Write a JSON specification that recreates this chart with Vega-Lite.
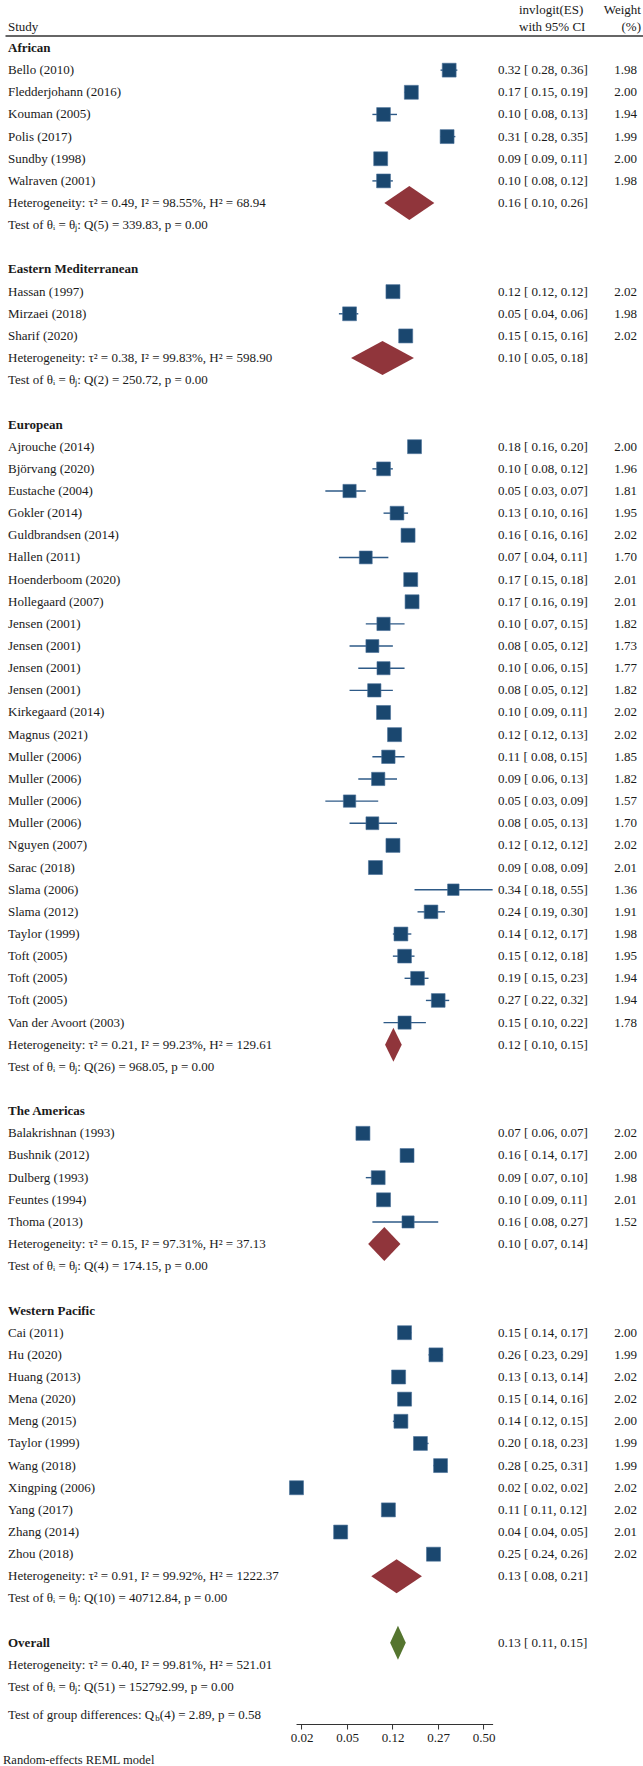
{
  "$schema": "https://vega.github.io/schema/vega-lite/v6.json",
  "width": 196.56,
  "height": 1724,
  "autosize": {"type": "none"},
  "padding": {"left": 296.04, "right": 150.4, "top": 0, "bottom": 42},
  "background": "white",
  "config": {
    "view": {"stroke": null},
    "text": {"font": "Liberation Serif", "fontSize": 13, "color": "#1a1a1a", "baseline": "middle"}
  },
  "datasets": {
    "studies": [
      {"row": 1, "study": "Bello (2010)", "ci": "0.32 [ 0.28, 0.36]", "wt": 1.98, "l": -0.754, "lo": -0.944, "hi": -0.575},
      {"row": 2, "study": "Fledderjohann (2016)", "ci": "0.17 [ 0.15, 0.19]", "wt": 2.00, "l": -1.586, "lo": -1.735, "hi": -1.450},
      {"row": 3, "study": "Kouman (2005)", "ci": "0.10 [ 0.08, 0.13]", "wt": 1.94, "l": -2.197, "lo": -2.442, "hi": -1.901},
      {"row": 4, "study": "Polis (2017)", "ci": "0.31 [ 0.28, 0.35]", "wt": 1.99, "l": -0.800, "lo": -0.944, "hi": -0.619},
      {"row": 5, "study": "Sundby (1998)", "ci": "0.09 [ 0.09, 0.11]", "wt": 2.00, "l": -2.26, "lo": -2.33, "hi": -2.12},
      {"row": 6, "study": "Walraven (2001)", "ci": "0.10 [ 0.08, 0.12]", "wt": 1.98, "l": -2.197, "lo": -2.442, "hi": -1.992},
      {"row": 11, "study": "Hassan (1997)", "ci": "0.12 [ 0.12, 0.12]", "wt": 2.02, "l": -1.99, "lo": -2.01, "hi": -1.97},
      {"row": 12, "study": "Mirzaei (2018)", "ci": "0.05 [ 0.04, 0.06]", "wt": 1.98, "l": -2.944, "lo": -3.178, "hi": -2.752},
      {"row": 13, "study": "Sharif (2020)", "ci": "0.15 [ 0.15, 0.16]", "wt": 2.02, "l": -1.71, "lo": -1.74, "hi": -1.67},
      {"row": 18, "study": "Ajrouche (2014)", "ci": "0.18 [ 0.16, 0.20]", "wt": 2.00, "l": -1.516, "lo": -1.658, "hi": -1.386},
      {"row": 19, "study": "Björvang (2020)", "ci": "0.10 [ 0.08, 0.12]", "wt": 1.96, "l": -2.197, "lo": -2.442, "hi": -1.992},
      {"row": 20, "study": "Eustache (2004)", "ci": "0.05 [ 0.03, 0.07]", "wt": 1.81, "l": -2.944, "lo": -3.476, "hi": -2.587},
      {"row": 21, "study": "Gokler (2014)", "ci": "0.13 [ 0.10, 0.16]", "wt": 1.95, "l": -1.901, "lo": -2.197, "hi": -1.658},
      {"row": 22, "study": "Guldbrandsen (2014)", "ci": "0.16 [ 0.16, 0.16]", "wt": 2.02, "l": -1.658, "lo": -1.67, "hi": -1.64},
      {"row": 23, "study": "Hallen (2011)", "ci": "0.07 [ 0.04, 0.11]", "wt": 1.70, "l": -2.587, "lo": -3.178, "hi": -2.091},
      {"row": 24, "study": "Hoenderboom (2020)", "ci": "0.17 [ 0.15, 0.18]", "wt": 2.01, "l": -1.60, "lo": -1.735, "hi": -1.516},
      {"row": 25, "study": "Hollegaard (2007)", "ci": "0.17 [ 0.16, 0.19]", "wt": 2.01, "l": -1.57, "lo": -1.658, "hi": -1.450},
      {"row": 26, "study": "Jensen (2001)", "ci": "0.10 [ 0.07, 0.15]", "wt": 1.82, "l": -2.197, "lo": -2.587, "hi": -1.735},
      {"row": 27, "study": "Jensen (2001)", "ci": "0.08 [ 0.05, 0.12]", "wt": 1.73, "l": -2.442, "lo": -2.944, "hi": -1.992},
      {"row": 28, "study": "Jensen (2001)", "ci": "0.10 [ 0.06, 0.15]", "wt": 1.77, "l": -2.197, "lo": -2.752, "hi": -1.735},
      {"row": 29, "study": "Jensen (2001)", "ci": "0.08 [ 0.05, 0.12]", "wt": 1.82, "l": -2.40, "lo": -2.944, "hi": -1.992},
      {"row": 30, "study": "Kirkegaard (2014)", "ci": "0.10 [ 0.09, 0.11]", "wt": 2.02, "l": -2.197, "lo": -2.314, "hi": -2.091},
      {"row": 31, "study": "Magnus (2021)", "ci": "0.12 [ 0.12, 0.13]", "wt": 2.02, "l": -1.955, "lo": -1.99, "hi": -1.92},
      {"row": 32, "study": "Muller (2006)", "ci": "0.11 [ 0.08, 0.15]", "wt": 1.85, "l": -2.091, "lo": -2.442, "hi": -1.735},
      {"row": 33, "study": "Muller (2006)", "ci": "0.09 [ 0.06, 0.13]", "wt": 1.82, "l": -2.314, "lo": -2.752, "hi": -1.901},
      {"row": 34, "study": "Muller (2006)", "ci": "0.05 [ 0.03, 0.09]", "wt": 1.57, "l": -2.944, "lo": -3.476, "hi": -2.314},
      {"row": 35, "study": "Muller (2006)", "ci": "0.08 [ 0.05, 0.13]", "wt": 1.70, "l": -2.442, "lo": -2.944, "hi": -1.901},
      {"row": 36, "study": "Nguyen (2007)", "ci": "0.12 [ 0.12, 0.12]", "wt": 2.02, "l": -1.99, "lo": -2.00, "hi": -1.98},
      {"row": 37, "study": "Sarac (2018)", "ci": "0.09 [ 0.08, 0.09]", "wt": 2.01, "l": -2.375, "lo": -2.44, "hi": -2.31},
      {"row": 38, "study": "Slama (2006)", "ci": "0.34 [ 0.18, 0.55]", "wt": 1.36, "l": -0.663, "lo": -1.516, "hi": 0.201},
      {"row": 39, "study": "Slama (2012)", "ci": "0.24 [ 0.19, 0.30]", "wt": 1.91, "l": -1.153, "lo": -1.450, "hi": -0.847},
      {"row": 40, "study": "Taylor (1999)", "ci": "0.14 [ 0.12, 0.17]", "wt": 1.98, "l": -1.815, "lo": -1.992, "hi": -1.586},
      {"row": 41, "study": "Toft (2005)", "ci": "0.15 [ 0.12, 0.18]", "wt": 1.95, "l": -1.735, "lo": -1.992, "hi": -1.516},
      {"row": 42, "study": "Toft (2005)", "ci": "0.19 [ 0.15, 0.23]", "wt": 1.94, "l": -1.450, "lo": -1.735, "hi": -1.208},
      {"row": 43, "study": "Toft (2005)", "ci": "0.27 [ 0.22, 0.32]", "wt": 1.94, "l": -0.995, "lo": -1.266, "hi": -0.754},
      {"row": 44, "study": "Van der Avoort (2003)", "ci": "0.15 [ 0.10, 0.22]", "wt": 1.78, "l": -1.735, "lo": -2.197, "hi": -1.266},
      {"row": 49, "study": "Balakrishnan (1993)", "ci": "0.07 [ 0.06, 0.07]", "wt": 2.02, "l": -2.65, "lo": -2.70, "hi": -2.60},
      {"row": 50, "study": "Bushnik (2012)", "ci": "0.16 [ 0.14, 0.17]", "wt": 2.00, "l": -1.68, "lo": -1.815, "hi": -1.586},
      {"row": 51, "study": "Dulberg (1993)", "ci": "0.09 [ 0.07, 0.10]", "wt": 1.98, "l": -2.314, "lo": -2.587, "hi": -2.197},
      {"row": 52, "study": "Feuntes (1994)", "ci": "0.10 [ 0.09, 0.11]", "wt": 2.01, "l": -2.197, "lo": -2.314, "hi": -2.091},
      {"row": 53, "study": "Thoma (2013)", "ci": "0.16 [ 0.08, 0.27]", "wt": 1.52, "l": -1.658, "lo": -2.442, "hi": -0.995},
      {"row": 58, "study": "Cai (2011)", "ci": "0.15 [ 0.14, 0.17]", "wt": 2.00, "l": -1.735, "lo": -1.815, "hi": -1.586},
      {"row": 59, "study": "Hu (2020)", "ci": "0.26 [ 0.23, 0.29]", "wt": 1.99, "l": -1.046, "lo": -1.208, "hi": -0.895},
      {"row": 60, "study": "Huang (2013)", "ci": "0.13 [ 0.13, 0.14]", "wt": 2.02, "l": -1.866, "lo": -1.90, "hi": -1.82},
      {"row": 61, "study": "Mena (2020)", "ci": "0.15 [ 0.14, 0.16]", "wt": 2.02, "l": -1.735, "lo": -1.815, "hi": -1.658},
      {"row": 62, "study": "Meng (2015)", "ci": "0.14 [ 0.12, 0.15]", "wt": 2.00, "l": -1.815, "lo": -1.992, "hi": -1.735},
      {"row": 63, "study": "Taylor (1999)", "ci": "0.20 [ 0.18, 0.23]", "wt": 1.99, "l": -1.386, "lo": -1.516, "hi": -1.208},
      {"row": 64, "study": "Wang (2018)", "ci": "0.28 [ 0.25, 0.31]", "wt": 1.99, "l": -0.944, "lo": -1.099, "hi": -0.800},
      {"row": 65, "study": "Xingping (2006)", "ci": "0.02 [ 0.02, 0.02]", "wt": 2.02, "l": -4.11, "lo": -4.12, "hi": -4.10},
      {"row": 66, "study": "Yang (2017)", "ci": "0.11 [ 0.11, 0.12]", "wt": 2.02, "l": -2.09, "lo": -2.12, "hi": -2.05},
      {"row": 67, "study": "Zhang (2014)", "ci": "0.04 [ 0.04, 0.05]", "wt": 2.01, "l": -3.14, "lo": -3.18, "hi": -3.05},
      {"row": 68, "study": "Zhou (2018)", "ci": "0.25 [ 0.24, 0.26]", "wt": 2.02, "l": -1.099, "lo": -1.153, "hi": -1.046}
    ],
    "pooled": [
      {"row": 7, "ci": "0.16 [ 0.10, 0.26]", "l": -1.63, "kind": "sub"},
      {"row": 14, "ci": "0.10 [ 0.05, 0.18]", "l": -2.22, "kind": "sub"},
      {"row": 45, "ci": "0.12 [ 0.10, 0.15]", "l": -1.98, "kind": "sub"},
      {"row": 54, "ci": "0.10 [ 0.07, 0.14]", "l": -2.18, "kind": "sub"},
      {"row": 69, "ci": "0.13 [ 0.08, 0.21]", "l": -1.91, "kind": "sub"},
      {"row": 72, "ci": "0.13 [ 0.11, 0.15]", "l": -1.88, "kind": "overall"}
    ],
    "left": [
      {"row": 0, "t": "African", "s": "b"},
      {"row": 7, "t": "Heterogeneity: τ² = 0.49, I² = 98.55%, H² = 68.94", "s": "p"},
      {"row": 8, "t": "Test of θᵢ = θⱼ: Q(5) = 339.83, p = 0.00", "s": "p"},
      {"row": 10, "t": "Eastern Mediterranean", "s": "b"},
      {"row": 14, "t": "Heterogeneity: τ² = 0.38, I² = 99.83%, H² = 598.90", "s": "p"},
      {"row": 15, "t": "Test of θᵢ = θⱼ: Q(2) = 250.72, p = 0.00", "s": "p"},
      {"row": 17, "t": "European", "s": "b"},
      {"row": 45, "t": "Heterogeneity: τ² = 0.21, I² = 99.23%, H² = 129.61", "s": "p"},
      {"row": 46, "t": "Test of θᵢ = θⱼ: Q(26) = 968.05, p = 0.00", "s": "p"},
      {"row": 48, "t": "The Americas", "s": "b"},
      {"row": 54, "t": "Heterogeneity: τ² = 0.15, I² = 97.31%, H² = 37.13", "s": "p"},
      {"row": 55, "t": "Test of θᵢ = θⱼ: Q(4) = 174.15, p = 0.00", "s": "p"},
      {"row": 57, "t": "Western Pacific", "s": "b"},
      {"row": 69, "t": "Heterogeneity: τ² = 0.91, I² = 99.92%, H² = 1222.37", "s": "p"},
      {"row": 70, "t": "Test of θᵢ = θⱼ: Q(10) = 40712.84, p = 0.00", "s": "p"},
      {"row": 72, "t": "Overall", "s": "b"},
      {"row": 73, "t": "Heterogeneity: τ² = 0.40, I² = 99.81%, H² = 521.01", "s": "p"},
      {"row": 74, "t": "Test of θᵢ = θⱼ: Q(51) = 152792.99, p = 0.00", "s": "p"},
      {"row": 75.26, "t": "Test of group differences: Q", "s": "p"},
      {"row": 77.29, "t": "Random-effects REML model", "s": "n"}
    ],
    "gdiff": [
      {"row": 75.26, "sub": "b", "rest": "(4) = 2.89, p = 0.58"}
    ],
    "header": [
      {"row": -1.738, "t": "invlogit(ES)", "c": "es"},
      {"row": -0.957, "t": "with 95% CI", "c": "es"},
      {"row": -0.957, "t": "Study", "c": "study"},
      {"row": -1.738, "t": "Weight", "c": "wt"},
      {"row": -0.957, "t": "(%)", "c": "wt"}
    ],
    "hline": [{"row": -0.542}]
  },
  "encoding": {
    "y": {"field": "row", "type": "quantitative", "scale": {"domain": [-2.167, 75.666], "reverse": true, "nice": false, "zero": false}, "axis": null}
  },
  "layer": [
    {
      "data": {"name": "hline"},
      "mark": {"type": "rule", "color": "#333333", "strokeWidth": 1.3},
      "encoding": {
        "x": {"datum": -10.5055, "type": "quantitative", "scale": {"domain": [-4.12, 0.2], "nice": false, "zero": false}, "axis": {"values": [-4, -3, -2, -1, 0], "labelExpr": "format(1/(1+exp(-datum.value)), '.2f')", "title": null, "grid": false, "tickSize": 5, "tickColor": "#333333", "domainColor": "#333333", "domainWidth": 1.2, "labelFont": "Liberation Serif", "labelFontSize": 13, "labelColor": "#1a1a1a", "labelPadding": 2, "labelFlush": false}},
        "x2": {"datum": 3.5055}
      }
    },
    {
      "data": {"name": "studies"},
      "mark": {"type": "rule", "color": "#2e5a87", "strokeWidth": 1.4},
      "encoding": {
        "x": {"field": "lo", "type": "quantitative", "scale": {"domain": [-4.12, 0.2], "nice": false, "zero": false}, "axis": {"values": [-4, -3, -2, -1, 0], "labelExpr": "format(1/(1+exp(-datum.value)), '.2f')", "title": null, "grid": false, "tickSize": 5, "tickColor": "#333333", "domainColor": "#333333", "domainWidth": 1.2, "labelFont": "Liberation Serif", "labelFontSize": 13, "labelColor": "#1a1a1a", "labelPadding": 2, "labelFlush": false}},
        "x2": {"field": "hi"}
      }
    },
    {
      "data": {"name": "studies"},
      "mark": {"type": "point", "shape": "square", "filled": true, "fill": "#1a476f", "stroke": "#4a7098", "strokeWidth": 0.6, "opacity": 1},
      "encoding": {
        "x": {"field": "l", "type": "quantitative", "scale": {"domain": [-4.12, 0.2], "nice": false, "zero": false}, "axis": {"values": [-4, -3, -2, -1, 0], "labelExpr": "format(1/(1+exp(-datum.value)), '.2f')", "title": null, "grid": false, "tickSize": 5, "tickColor": "#333333", "domainColor": "#333333", "domainWidth": 1.2, "labelFont": "Liberation Serif", "labelFontSize": 13, "labelColor": "#1a1a1a", "labelPadding": 2, "labelFlush": false}},
        "size": {"field": "wt", "type": "quantitative", "scale": {"type": "linear", "domain": [0, 2.02], "range": [0, 196], "zero": true}, "legend": null}
      }
    },
    {
      "data": {"name": "pooled"},
      "mark": {"type": "point", "filled": true, "opacity": 1, "size": 1156, "strokeWidth": 0},
      "encoding": {
        "x": {"field": "l", "type": "quantitative", "scale": {"domain": [-4.12, 0.2], "nice": false, "zero": false}, "axis": {"values": [-4, -3, -2, -1, 0], "labelExpr": "format(1/(1+exp(-datum.value)), '.2f')", "title": null, "grid": false, "tickSize": 5, "tickColor": "#333333", "domainColor": "#333333", "domainWidth": 1.2, "labelFont": "Liberation Serif", "labelFontSize": 13, "labelColor": "#1a1a1a", "labelPadding": 2, "labelFlush": false}},
        "shape": {"field": "row", "type": "nominal", "scale": {"domain": [7, 14, 45, 54, 69, 72], "range": ["M-1.47,0L0,-1L1.47,0L0,1Z", "M-1.85,0L0,-1L1.85,0L0,1Z", "M-0.49,0L0,-1L0.49,0L0,1Z", "M-0.95,0L0,-1L0.95,0L0,1Z", "M-1.49,0L0,-1L1.49,0L0,1Z", "M-0.46,0L0,-1L0.46,0L0,1Z"]}, "legend": null},
        "color": {"field": "kind", "type": "nominal", "scale": {"domain": ["sub", "overall"], "range": ["#90353b", "#55752f"]}, "legend": null}
      }
    },
    {
      "data": {"name": "studies"},
      "mark": {"type": "text", "align": "left"},
      "encoding": {
        "x": {"datum": -10.4505, "type": "quantitative"},
        "text": {"field": "study", "type": "nominal"}
      }
    },
    {
      "data": {"name": "left"},
      "transform": [{"filter": "datum.s === 'p'"}],
      "mark": {"type": "text", "align": "left"},
      "encoding": {
        "x": {"datum": -10.4505, "type": "quantitative"},
        "text": {"field": "t", "type": "nominal"}
      }
    },
    {
      "data": {"name": "left"},
      "transform": [{"filter": "datum.s === 'b'"}],
      "mark": {"type": "text", "align": "left", "fontWeight": "bold"},
      "encoding": {
        "x": {"datum": -10.4505, "type": "quantitative"},
        "text": {"field": "t", "type": "nominal"}
      }
    },
    {
      "data": {"name": "left"},
      "transform": [{"filter": "datum.s === 'n'"}],
      "mark": {"type": "text", "align": "left", "fontSize": 12.5},
      "encoding": {
        "x": {"datum": -10.5604, "type": "quantitative"},
        "text": {"field": "t", "type": "nominal"}
      }
    },
    {
      "data": {"name": "gdiff"},
      "mark": {"type": "text", "align": "left", "fontSize": 9, "dy": 3},
      "encoding": {
        "x": {"datum": -7.2132, "type": "quantitative"},
        "text": {"field": "sub", "type": "nominal"}
      }
    },
    {
      "data": {"name": "gdiff"},
      "mark": {"type": "text", "align": "left"},
      "encoding": {
        "x": {"datum": -7.1143, "type": "quantitative"},
        "text": {"field": "rest", "type": "nominal"}
      }
    },
    {
      "data": {"name": "studies"},
      "mark": {"type": "text", "align": "left"},
      "encoding": {
        "x": {"datum": 0.3187, "type": "quantitative"},
        "text": {"field": "ci", "type": "nominal"}
      }
    },
    {
      "data": {"name": "pooled"},
      "mark": {"type": "text", "align": "left"},
      "encoding": {
        "x": {"datum": 0.3187, "type": "quantitative"},
        "text": {"field": "ci", "type": "nominal"}
      }
    },
    {
      "data": {"name": "studies"},
      "mark": {"type": "text", "align": "right"},
      "encoding": {
        "x": {"datum": 3.3736, "type": "quantitative"},
        "text": {"field": "wt", "type": "quantitative", "format": ".2f"}
      }
    },
    {
      "data": {"name": "header"},
      "transform": [{"filter": "datum.c === 'study'"}],
      "mark": {"type": "text", "align": "left"},
      "encoding": {
        "x": {"datum": -10.4505, "type": "quantitative"},
        "text": {"field": "t", "type": "nominal"}
      }
    },
    {
      "data": {"name": "header"},
      "transform": [{"filter": "datum.c === 'es'"}],
      "mark": {"type": "text", "align": "left"},
      "encoding": {
        "x": {"datum": 0.7802, "type": "quantitative"},
        "text": {"field": "t", "type": "nominal"}
      }
    },
    {
      "data": {"name": "header"},
      "transform": [{"filter": "datum.c === 'wt'"}],
      "mark": {"type": "text", "align": "right"},
      "encoding": {
        "x": {"datum": 3.4615, "type": "quantitative"},
        "text": {"field": "t", "type": "nominal"}
      }
    }
  ]
}
